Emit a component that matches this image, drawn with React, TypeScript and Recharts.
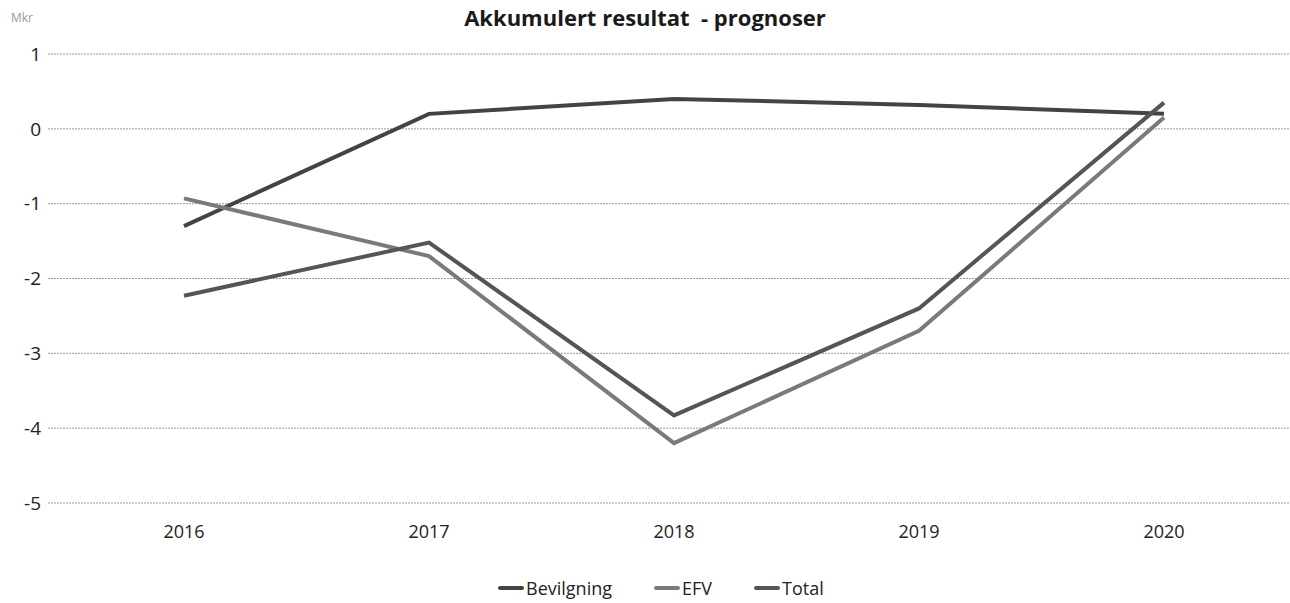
import { LineChart, Line, XAxis, YAxis, CartesianGrid } from "recharts";

const years = ["2016", "2017", "2018", "2019", "2020"];
const bevilgning = [-1.3, 0.2, 0.4, 0.32, 0.2];
const efv = [-0.93, -1.7, -4.2, -2.7, 0.15];
const total = [-2.23, -1.52, -3.83, -2.4, 0.35];
const yTicks = [-5, -4, -3, -2, -1, 0, 1];

const data = years.map((year, i) => ({
  year,
  Bevilgning: bevilgning[i],
  EFV: efv[i],
  Total: total[i],
}));

const series = [
  { key: "Bevilgning", color: "#434343" },
  { key: "EFV", color: "#7a7a7a" },
  { key: "Total", color: "#555555" },
];

const font = "'Open Sans', 'Liberation Sans', sans-serif";

function LegendRow() {
  return (
    <div
      style={{
        position: "absolute",
        top: 576,
        left: 498,
        display: "flex",
        fontFamily: font,
        fontSize: 18,
        color: "#222",
      }}
    >
      {series.map((s) => (
        <div key={s.key} style={{ display: "flex", alignItems: "center", marginRight: 42 }}>
          <span
            style={{
              display: "inline-block",
              width: 26,
              height: 4,
              borderRadius: 2,
              background: s.color,
              marginRight: 2,
            }}
          />
          <span>{s.key}</span>
        </div>
      ))}
    </div>
  );
}

export default function App() {
  return (
    <div style={{ position: "absolute", left: 0, top: 0, width: 1290, height: 603, background: "#fff" }}>
      <div
        style={{
          position: "absolute",
          top: 2,
          left: 0,
          width: 1290,
          textAlign: "center",
          fontFamily: font,
          fontWeight: 700,
          fontSize: 22,
          color: "#1a1a1a",
        }}
      >
        Akkumulert resultat&nbsp; - prognoser
      </div>
      <div
        style={{
          position: "absolute",
          top: 9,
          left: 11,
          fontFamily: font,
          fontSize: 12,
          color: "#999",
        }}
      >
        Mkr
      </div>
      <LineChart
        width={1290}
        height={603}
        data={data}
        margin={{ top: 54, right: 0, bottom: 40, left: 0 }}
      >
        <CartesianGrid vertical={false} stroke="#999" strokeDasharray="2 1" />
        <XAxis
          dataKey="year"
          height={60}
          padding={{ left: 136, right: 126 }}
          axisLine={false}
          tickLine={false}
          tickMargin={16}
          tick={{ fontFamily: font, fontSize: 18, fill: "#222" }}
        />
        <YAxis
          width={48}
          domain={[-5, 1]}
          ticks={yTicks}
          axisLine={false}
          tickLine={false}
          tickMargin={1}
          tick={{ fontFamily: font, fontSize: 19, fill: "#222" }}
        />
        {series.map((s) => (
          <Line
            key={s.key}
            type="linear"
            dataKey={s.key}
            stroke={s.color}
            strokeWidth={4}
            dot={false}
            isAnimationActive={false}
          />
        ))}
      </LineChart>
      <LegendRow />
    </div>
  );
}
